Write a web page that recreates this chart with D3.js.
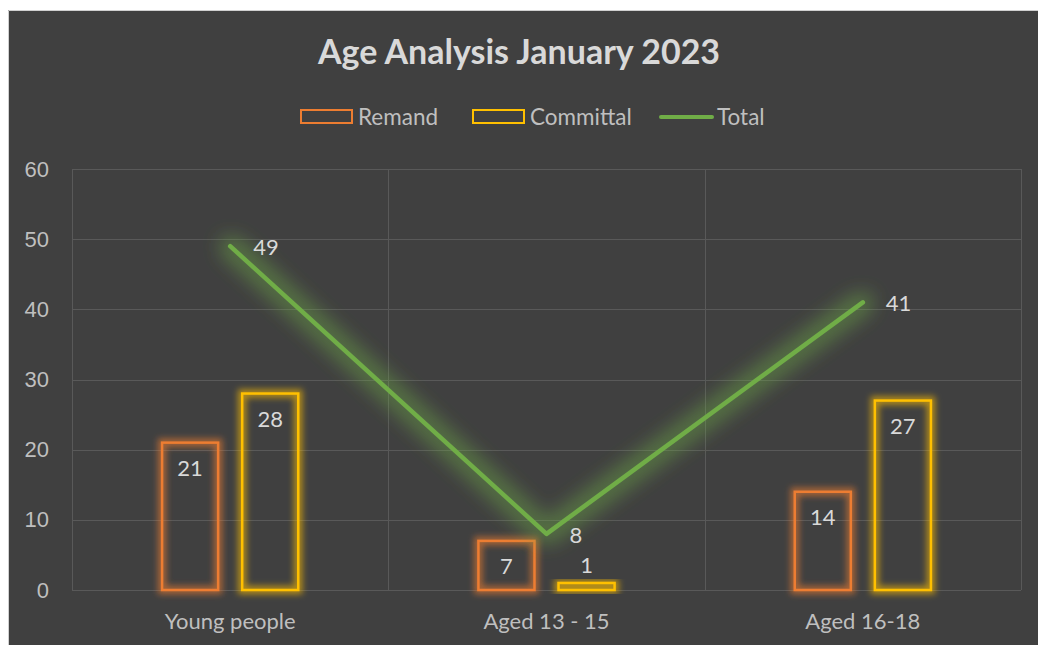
<!DOCTYPE html>
<html>
<head>
<meta charset="utf-8">
<script src="https://d3js.org/d3.v7.min.js"></script>
<style>
  body {
    margin: 0;
    background: #fff;
    font-family: Lato, "Open Sans", sans-serif;
  }
  svg { display: block; }
  .grid line { stroke: #595959; stroke-width: 1; }
  .axis text, .cat-label { fill: #bfbfbf; font-size: 22px; }
  .legend text { fill: #bfbfbf; font-size: 22.5px; }
  .value-label { fill: #d9d9d9; font-size: 22px; }
</style>
</head>
<body>
<script>
  // data
  var categories = ["Young people", "Aged 13 - 15", "Aged 16-18"];
  var series = ["Remand", "Committal"];
  var remand = [21, 7, 14];
  var committal = [28, 1, 27];
  var total = [49, 8, 41];
  var yTicks = [0, 10, 20, 30, 40, 50, 60];

  var colors = {Remand: "#ed7d31", Committal: "#ffc000", Total: "#70ad47"};

  var W = 1038, H = 645;
  var plot = {left: 72, top: 169, right: 1021, bottom: 590};

  var svg = d3.select("body").append("svg")
      .attr("width", W)
      .attr("height", H);

  // glow filters: dilate, blur, fade, then put the sharp stroke on top
  var defs = svg.append("defs");
  function glow(id, grow, dev, op) {
    var f = defs.append("filter").attr("id", id)
        .attr("x", "-50%").attr("y", "-50%").attr("width", "200%").attr("height", "200%");
    f.append("feMorphology").attr("in", "SourceGraphic").attr("operator", "dilate")
        .attr("radius", grow).attr("result", "d");
    f.append("feGaussianBlur").attr("in", "d").attr("stdDeviation", dev).attr("result", "b");
    f.append("feComponentTransfer").attr("in", "b").attr("result", "b2")
      .append("feFuncA").attr("type", "linear").attr("slope", op);
    var m = f.append("feMerge");
    m.append("feMergeNode").attr("in", "b2");
    m.append("feMergeNode").attr("in", "SourceGraphic");
  }
  glow("glowBar", 3, 3, 0.6);
  glow("glowLine", 8, 9, 0.42);

  // background panel
  svg.append("rect")
      .attr("x", 8).attr("y", 10)
      .attr("width", W - 8).attr("height", H - 10)
      .attr("fill", "#404040");
  svg.append("path")
      .attr("d", `M8.5,${H}V10.5H${W}`)
      .attr("fill", "none")
      .attr("stroke", "#d0d0d0");

  var x = d3.scaleBand()
      .domain(categories)
      .range([plot.left, plot.right]);

  var xSub = d3.scaleBand()
      .domain(series)
      .range([x.bandwidth() * 0.2816, x.bandwidth() * 0.7184])
      .paddingInner(0.275);

  var y = d3.scaleLinear()
      .domain([0, 60])
      .range([plot.bottom, plot.top]);

  // horizontal grid
  svg.append("g")
      .attr("class", "grid")
    .selectAll("line")
    .data(yTicks)
    .join("line")
      .attr("x1", plot.left).attr("x2", plot.right)
      .attr("y1", d => Math.round(y(d)) + 0.5)
      .attr("y2", d => Math.round(y(d)) + 0.5);

  // vertical category dividers
  var dividers = categories.map(c => x(c)).concat([plot.right]);
  svg.append("g")
      .attr("class", "grid")
    .selectAll("line")
    .data(dividers)
    .join("line")
      .attr("x1", d => Math.round(d) + 0.5).attr("x2", d => Math.round(d) + 0.5)
      .attr("y1", plot.top).attr("y2", plot.bottom);

  // y axis labels
  var yAxis = d3.axisLeft(y)
      .tickValues(yTicks)
      .tickSize(0)
      .tickPadding(23);
  svg.append("g")
      .attr("class", "axis")
      .attr("transform", `translate(${plot.left},0)`)
      .call(yAxis)
      .call(g => g.select(".domain").remove())
      .call(g => g.selectAll("text").attr("font-family", null).attr("font-size", null));

  // x labels
  svg.append("g")
    .selectAll("text")
    .data(categories)
    .join("text")
      .attr("class", "cat-label")
      .attr("x", d => x(d) + x.bandwidth() / 2)
      .attr("y", 629)
      .attr("text-anchor", "middle")
      .text(d => d);

  // bars
  var barData = [];
  categories.forEach(function(c, i) {
    barData.push({cat: c, s: "Remand", v: remand[i]});
    barData.push({cat: c, s: "Committal", v: committal[i]});
  });

  var bars = svg.append("g").selectAll("g")
    .data(barData)
    .join("g")
      .attr("transform", d => `translate(${x(d.cat) + xSub(d.s)},0)`);

  bars.append("rect")
      .attr("x", 1)
      .attr("y", d => y(d.v))
      .attr("width", xSub.bandwidth() - 2)
      .attr("height", d => y(0) - y(d.v))
      .attr("fill", "none")
      .attr("stroke", d => colors[d.s])
      .attr("stroke-width", 2.5)
      .attr("filter", "url(#glowBar)");

  bars.append("text")
      .attr("class", "value-label")
      .attr("x", xSub.bandwidth() / 2)
      .attr("y", d => d.v >= 5 ? y(d.v) + 33 : y(d.v) - 10)
      .attr("text-anchor", "middle")
      .text(d => d.v);

  // total line
  var line = d3.line()
      .x((d, i) => x(categories[i]) + x.bandwidth() / 2)
      .y(d => y(d));

  svg.append("path")
      .datum(total)
      .attr("d", line)
      .attr("fill", "none")
      .attr("stroke", colors.Total)
      .attr("stroke-width", 4.5)
      .attr("stroke-linejoin", "round")
      .attr("stroke-linecap", "round")
      .attr("filter", "url(#glowLine)");

  svg.append("g").selectAll("text")
    .data(total)
    .join("text")
      .attr("class", "value-label")
      .attr("x", (d, i) => x(categories[i]) + x.bandwidth() / 2 + 23)
      .attr("y", d => y(d) + 9)
      .text(d => d);

  // title
  svg.append("text")
      .attr("x", 519)
      .attr("y", 64)
      .attr("text-anchor", "middle")
      .attr("fill", "#d9d9d9")
      .attr("font-size", 34)
      .attr("font-weight", "bold")
      .text("Age Analysis January 2023");

  // legend
  var legendItems = [
    {name: "Remand", x: 300, type: "rect"},
    {name: "Committal", x: 472, type: "rect"},
    {name: "Total", x: 659, type: "line"}
  ];
  var lg = svg.append("g").attr("class", "legend")
    .selectAll("g")
    .data(legendItems)
    .join("g")
      .attr("transform", d => `translate(${d.x},0)`);

  lg.filter(d => d.type === "rect").append("rect")
      .attr("x", 1).attr("y", 110)
      .attr("width", 51).attr("height", 13)
      .attr("fill", "none")
      .attr("stroke", d => colors[d.name])
      .attr("stroke-width", 2);

  lg.filter(d => d.type === "line").append("line")
      .attr("x1", 2).attr("x2", 53)
      .attr("y1", 117).attr("y2", 117)
      .attr("stroke", colors.Total)
      .attr("stroke-width", 4)
      .attr("stroke-linecap", "round");

  lg.append("text")
      .attr("x", 58)
      .attr("y", 125)
      .text(d => d.name);
</script>
</body>
</html>
